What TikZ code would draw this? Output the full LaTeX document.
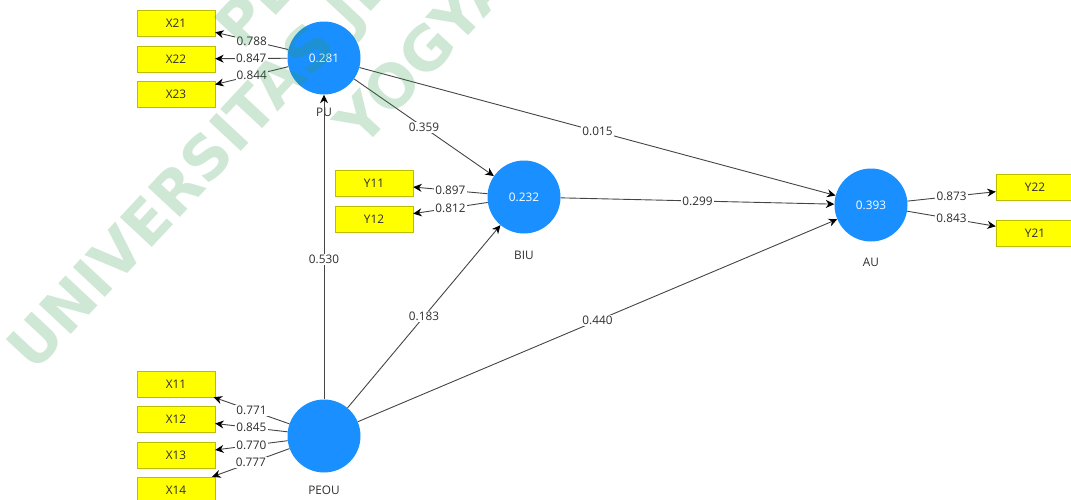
\documentclass[tikz,border=0pt]{standalone}
\usepackage{fontspec}
\setmainfont{Open Sans}
\newfontfamily\wmfont{DejaVu Sans}
\usepackage{tikz}
\usetikzlibrary{arrows.meta}
\definecolor{PBlue}{HTML}{1A8FFF}
\definecolor{PYellow}{HTML}{FFFF00}
\definecolor{PEdge}{HTML}{BDBD00}
\definecolor{PLine}{HTML}{444444}
\definecolor{PText}{HTML}{2E2E2E}
\definecolor{PMark}{HTML}{2E9A4A}

\begin{document}
\begin{tikzpicture}[
  x=1pt,y=-1pt,
  every node/.style={font=\fontsize{11.8}{13}\selectfont,text=PText},
  latent/.style={circle,fill=PBlue,minimum size=73pt,inner sep=0pt,
    text=white},
  indic/.style={draw=PEdge,fill=PYellow,minimum width=78pt,
    minimum height=26pt,inner sep=0pt},
  arr/.style={-{Stealth[length=8.5pt,width=8pt,color=black]},color=PLine,
    line width=0.9pt},
  coef/.style={fill=white,inner sep=1.2pt,midway},
  wmark/.style={font=\wmfont\bfseries\fontsize{60}{64}\selectfont,
    text=PMark,text opacity=0.23,rotate=47,inner sep=0pt,anchor=base west}
]
  \useasboundingbox (0,0) rectangle (1071,499);
  % latent variables
  \node[latent] (pu) at (324,58) {0.281};
  \node[latent] (peou) at (324,436) {};
  \node[latent] (biu) at (524,197) {0.232};
  \node[latent] (au) at (871,205) {0.393};
  \node (pu-name) at (324,112) {PU};
  \node (peou-name) at (324,490) {PEOU};
  \node (biu-name) at (524,255) {BIU};
  \node (au-name) at (871,262) {AU};
  % indicators
  \node[indic] (x21) at (176,23) {X21};
  \node[indic] (x22) at (176,59) {X22};
  \node[indic] (x23) at (176,94) {X23};
  \node[indic] (x11) at (176,384) {X11};
  \node[indic] (x12) at (176,419) {X12};
  \node[indic] (x13) at (176,455) {X13};
  \node[indic] (x14) at (176,490) {X14};
  \node[indic] (y11) at (374,183.5) {Y11};
  \node[indic] (y12) at (374,219.5) {Y12};
  \node[indic] (y22) at (1035,187.5) {Y22};
  \node[indic] (y21) at (1035,233) {Y21};
  % outer loadings
  \draw[arr] (pu) -- node[coef] {0.788} (x21);
  \draw[arr] (pu) -- node[coef] {0.847} (x22);
  \draw[arr] (pu) -- node[coef] {0.844} (x23);
  \draw[arr] (peou) -- node[coef] {0.771} (x11);
  \draw[arr] (peou) -- node[coef] {0.845} (x12);
  \draw[arr] (peou) -- node[coef] {0.770} (x13);
  \draw[arr] (peou) -- node[coef] {0.777} (x14);
  \draw[arr] (biu) -- node[coef] {0.897} (y11);
  \draw[arr] (biu) -- node[coef] {0.812} (y12);
  \draw[arr] (au) -- node[coef] {0.873} (y22);
  \draw[arr] (au) -- node[coef] {0.843} (y21);
  % path coefficients
  \draw[arr] (peou) -- node[coef,pos=0.46] {0.530} (pu);
  \draw[arr] (pu) -- node[coef] {0.359} (biu);
  \draw[arr] (pu) -- node[coef] {0.015} (au);
  \draw[arr] (biu) -- node[coef] {0.299} (au);
  \draw[arr] (peou) -- node[coef] {0.183} (biu);
  \draw[arr] (peou) -- node[coef] {0.440} (au);
  % watermark
  \node[wmark] (wm1) at (242,52) {PERPUSTAKAAN};
  \node[wmark] (wm2) at (34,374) {UNIVERSITAS JENDERAL ACHMAD YANI};
  \node[wmark] (wm3) at (362,150) {YOGYAKARTA};
\end{tikzpicture}
\end{document}
